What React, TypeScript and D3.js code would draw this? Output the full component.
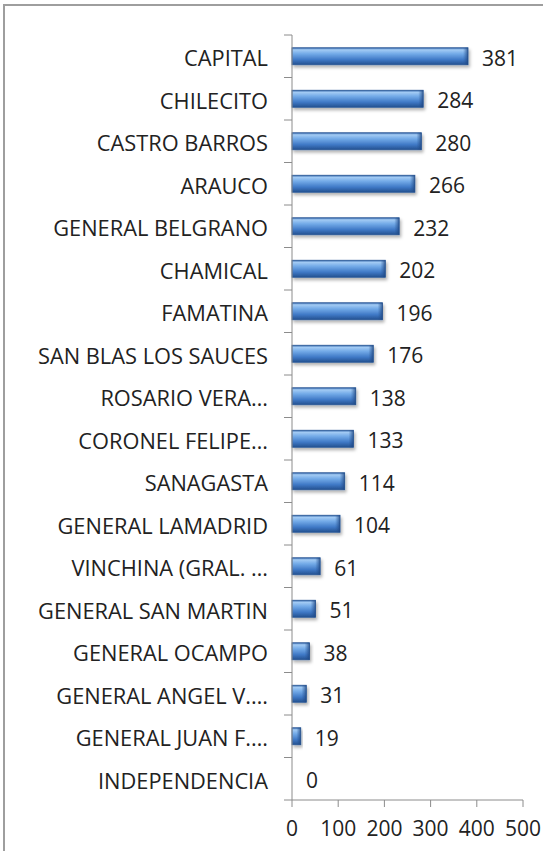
import * as d3 from "d3";

const WIDTH = 543;
const HEIGHT = 851;
// plot area (axis at left edge of it)
const PLOT = { left: 292, right: 523, top: 35, bottom: 800 };
const FONT = "'Open Sans', Calibri, sans-serif";

const departments = [
  "CAPITAL",
  "CHILECITO",
  "CASTRO BARROS",
  "ARAUCO",
  "GENERAL BELGRANO",
  "CHAMICAL",
  "FAMATINA",
  "SAN BLAS LOS SAUCES",
  "ROSARIO VERA…",
  "CORONEL FELIPE…",
  "SANAGASTA",
  "GENERAL LAMADRID",
  "VINCHINA (GRAL. …",
  "GENERAL SAN MARTIN",
  "GENERAL OCAMPO",
  "GENERAL ANGEL V.…",
  "GENERAL JUAN F.…",
  "INDEPENDENCIA",
];
const counts = [381, 284, 280, 266, 232, 202, 196, 176, 138, 133, 114, 104, 61, 51, 38, 31, 19, 0];
const xTicks = [0, 100, 200, 300, 400, 500];

export default function App() {
  const data = departments.map((name, i) => ({ name, value: counts[i] }));

  const xScale = d3.scaleLinear().domain([0, 500]).range([PLOT.left, PLOT.right]);
  const yScale = d3
    .scaleBand()
    .domain(departments)
    .range([PLOT.top, PLOT.bottom])
    .paddingInner(0.6)
    .paddingOuter(0.3);
  const step = yScale.step();

  const bars = data.map((d, i) => {
    const y = yScale(d.name) ?? 0;
    const bw = yScale.bandwidth();
    const x0 = xScale(0);
    const w = xScale(d.value) - x0;
    const cy = y + bw / 2;
    return (
      <g key={i}>
        {w > 0 && (
          <g filter="url(#shadow)">
            <rect x={x0} y={y} width={w} height={bw} fill="url(#barGrad)" stroke="#2c5a98" strokeWidth={0.8} />
            <rect x={x0 + w - Math.min(5, w / 2)} y={y} width={Math.min(5, w / 2)} height={bw} fill="url(#capGrad)" />
          </g>
        )}
        <text
          x={xScale(d.value) + 14}
          y={cy + 1.5}
          fontSize={21}
          fontFamily={FONT}
          fill="#222"
          dominantBaseline="central"
        >
          {d.value}
        </text>
        <text
          x={268}
          y={cy + 1.5}
          fontSize={21.8}
          fontFamily={FONT}
          fill="#222"
          textAnchor="end"
          dominantBaseline="central"
        >
          {d.name}
        </text>
      </g>
    );
  });

  // category ticks at band boundaries
  const catTicks = d3.range(departments.length + 1).map((i) => {
    const y = PLOT.top + i * step;
    return <line key={i} x1={PLOT.left - 8} x2={PLOT.left} y1={y} y2={y} stroke="#8c8c8c" strokeWidth={1} />;
  });

  const valueTicks = xTicks.map((t) => (
    <g key={t}>
      <line x1={xScale(t)} x2={xScale(t)} y1={PLOT.bottom} y2={PLOT.bottom + 7} stroke="#8c8c8c" strokeWidth={1} />
      <text x={xScale(t)} y={836} fontSize={21} fontFamily={FONT} fill="#222" textAnchor="middle">
        {t}
      </text>
    </g>
  ));

  return (
    <svg
      width={WIDTH}
      height={HEIGHT}
      style={{ position: "absolute", left: 0, top: 0, background: "#fff" }}
    >
      <defs>
        <linearGradient id="barGrad" x1="0" y1="0" x2="0" y2="1">
          <stop offset="0" stopColor="#2f62a6" />
          <stop offset="0.12" stopColor="#a3cbf4" />
          <stop offset="0.35" stopColor="#74abe8" />
          <stop offset="0.7" stopColor="#3f79c6" />
          <stop offset="1" stopColor="#23508f" />
        </linearGradient>
        <linearGradient id="capGrad" x1="0" y1="0" x2="1" y2="0">
          <stop offset="0" stopColor="#2a5694" stopOpacity={0} />
          <stop offset="1" stopColor="#1e4580" stopOpacity={0.8} />
        </linearGradient>
        <filter id="shadow" x="-10%" y="-50%" width="130%" height="220%">
          <feDropShadow dx={1.5} dy={2.5} stdDeviation={1.5} floodColor="#000" floodOpacity={0.3} />
        </filter>
      </defs>
      {/* chart frame */}
      <line x1={4} x2={WIDTH} y1={5} y2={5} stroke="#9e9e9e" strokeWidth={2} />
      <line x1={4} x2={4} y1={4} y2={HEIGHT} stroke="#9e9e9e" strokeWidth={2} />

      {catTicks}
      {bars}
      <line x1={PLOT.left} x2={PLOT.left} y1={PLOT.top} y2={PLOT.bottom} stroke="#8c8c8c" strokeWidth={1} />
      <line x1={PLOT.left} x2={PLOT.right} y1={PLOT.bottom} y2={PLOT.bottom} stroke="#8c8c8c" strokeWidth={1} />
      {valueTicks}
    </svg>
  );
}
